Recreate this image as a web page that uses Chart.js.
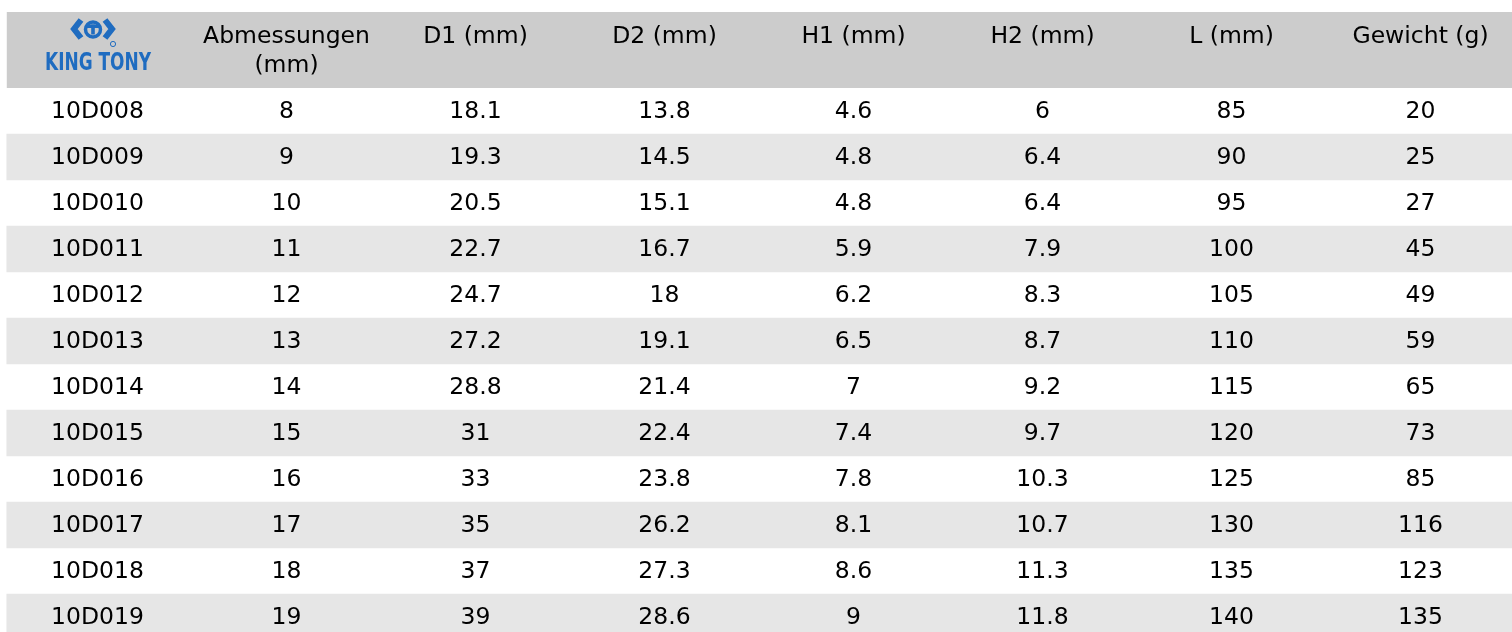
<!DOCTYPE html>
<html>
<head>
<meta charset="utf-8">
<title>KING TONY 10D</title>
<script src="https://cdn.jsdelivr.net/npm/chart.js@4.4.1/dist/chart.umd.min.js"></script>
<style>
    html, body { margin: 0; padding: 0; background: #fff; overflow: hidden; }
    #wrap { position: absolute; left: 0; top: 0; width: 1530px; height: 660px; }
</style>
</head>
<body>
<div id="wrap"><canvas id="tbl"></canvas></div>
<script>
// table data
const codes = ["10D008","10D009","10D010","10D011","10D012","10D013","10D014","10D015","10D016","10D017","10D018","10D019"];
const sizes = [8, 9, 10, 11, 12, 13, 14, 15, 16, 17, 18, 19];
const d1 = [18.1, 19.3, 20.5, 22.7, 24.7, 27.2, 28.8, 31, 33, 35, 37, 39];
const d2 = [13.8, 14.5, 15.1, 16.7, 18, 19.1, 21.4, 22.4, 23.8, 26.2, 27.3, 28.6];
const h1 = [4.6, 4.8, 4.8, 5.9, 6.2, 6.5, 7, 7.4, 7.8, 8.1, 8.6, 9];
const h2 = [6, 6.4, 6.4, 7.9, 8.3, 8.7, 9.2, 9.7, 10.3, 10.7, 11.3, 11.8];
const lengths = [85, 90, 95, 100, 105, 110, 115, 120, 125, 130, 135, 140];
const weights = [20, 25, 27, 45, 49, 59, 65, 73, 85, 116, 123, 135];

// header texts, column 0 holds the logo
const headers = [
    null,
    ["Abmessungen", "(mm)"],
    ["D1 (mm)"],
    ["D2 (mm)"],
    ["H1 (mm)"],
    ["H2 (mm)"],
    ["L (mm)"],
    ["Gewicht (g)"]
];

const columns = [codes, sizes, d1, d2, h1, h2, lengths, weights];

const FONT = "23.5px 'DejaVu Sans'";
const HEADER_H = 76;
const STRIPE_START = -0.48;
const LOGO_BLUE = "#1f6cc0";

// stripe on every second row
const stripes = codes.map((c, i) => i % 2 == 1 ? [STRIPE_START, 7.5] : null);

// logo, top = top of header band
function drawLogo(ctx, cx, top) {
    ctx.save();
    ctx.strokeStyle = LOGO_BLUE;
    ctx.fillStyle = LOGO_BLUE;
    ctx.lineWidth = 6;
    ctx.lineJoin = "miter";
    // chevrons
    ctx.beginPath();
    ctx.moveTo(cx - 12, top + 8);
    ctx.lineTo(cx - 19, top + 17);
    ctx.lineTo(cx - 12, top + 26);
    ctx.moveTo(cx + 12, top + 8);
    ctx.lineTo(cx + 19, top + 17);
    ctx.lineTo(cx + 12, top + 26);
    ctx.stroke();
    // middle ring with T
    ctx.lineWidth = 3.5;
    ctx.beginPath();
    ctx.arc(cx, top + 17.5, 7.5, 0, Math.PI * 2);
    ctx.stroke();
    ctx.fillRect(cx - 6, top + 12.5, 12, 3.5);
    ctx.fillRect(cx - 1.8, top + 12.5, 3.6, 10);
    // registered mark
    ctx.lineWidth = 1;
    ctx.beginPath();
    ctx.arc(cx + 20, top + 32, 2.6, 0, Math.PI * 2);
    ctx.stroke();
    // brand text
    ctx.font = "bold 24px 'DejaVu Sans Condensed'";
    ctx.textAlign = "center";
    ctx.textBaseline = "alphabetic";
    ctx.fillText("KING TONY", cx + 5, top + 58, 106);
    ctx.restore();
}

const tablePlugin = {
    id: "tablePlugin",
    beforeDatasetsDraw(chart) {
        let ctx = chart.ctx;
        let x = chart.scales.x;
        let top = chart.chartArea.top - HEADER_H;
        ctx.save();
        ctx.fillStyle = "#cccccc";
        ctx.fillRect(x.getPixelForValue(STRIPE_START), top, chart.width, HEADER_H);
        ctx.restore();
    },
    afterDatasetsDraw(chart) {
        let ctx = chart.ctx;
        let x = chart.scales.x;
        let y = chart.scales.y;
        let top = chart.chartArea.top - HEADER_H;
        ctx.save();
        ctx.fillStyle = "#000";
        ctx.font = FONT;
        ctx.textAlign = "center";
        ctx.textBaseline = "middle";

        // header
        headers.forEach((h, j) => {
            if (!h) return;
            h.forEach((line, k) => {
                ctx.fillText(line, x.getPixelForValue(j), top + 25 + k * 29);
            });
        });

        // body cells
        columns.forEach((col, j) => {
            col.forEach((v, i) => {
                ctx.fillText(String(v), x.getPixelForValue(j), y.getPixelForValue(i) + 1);
            });
        });
        ctx.restore();

        drawLogo(ctx, x.getPixelForValue(0) - 4.5, top);
    }
};

new Chart(document.getElementById("tbl"), {
    type: "bar",
    data: {
        labels: codes,
        datasets: [{
            data: stripes,
            backgroundColor: "#e6e6e6",
            borderWidth: 0,
            borderSkipped: false,
            barPercentage: 1,
            categoryPercentage: 1
        }]
    },
    options: {
        indexAxis: "y",
        responsive: true,
        maintainAspectRatio: false,
        animation: false,
        events: [],
        layout: { padding: { top: 88, left: 3, right: 15, bottom: 20 } },
        plugins: {
            legend: { display: false },
            title: { display: false },
            tooltip: { enabled: false }
        },
        scales: {
            x: { type: "linear", min: -0.5, max: 7.5, display: false },
            y: { type: "category", display: false, offset: true }
        }
    },
    plugins: [tablePlugin]
});
</script>
</body>
</html>
